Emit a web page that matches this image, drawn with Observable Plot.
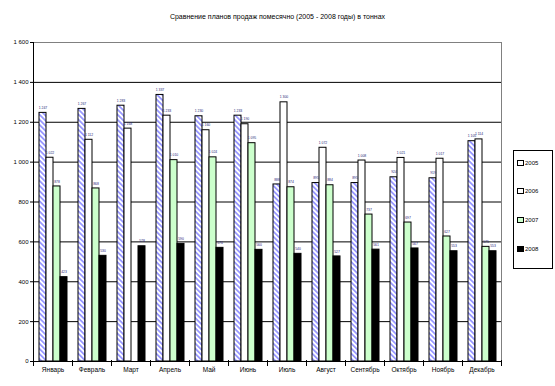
<!DOCTYPE html>
<html>
<head>
<meta charset="utf-8">
<script src="https://cdn.jsdelivr.net/npm/d3@7"></script>
<script src="https://cdn.jsdelivr.net/npm/@observablehq/plot@0.6"></script>
<style>
  body { margin: 0; background: white; font-family: "Liberation Sans", Arial, sans-serif; }
  #wrap { position: relative; width: 555px; height: 386px; overflow: hidden; }
  #title { position: absolute; left: 0; top: 13px; width: 555px; text-align: center; font-size: 7px; color: #000; }
  #chart { position: absolute; left: 0; top: 30px; }
  #legend { position: absolute; left: 513px; top: 150px; width: 38px; height: 117px; border: 1px solid #000; background: white; }
  .item { position: absolute; left: 3px; font-size: 6px; color: #000; line-height: 6px; }
  .sw { display: inline-block; width: 5px; height: 4px; border: 1px solid #000; vertical-align: middle; margin-right: 1px; }
</style>
</head>
<body>
<div id="wrap">
  <div id="title">Сравнение планов продаж помесячно (2005 - 2008 годы) в тоннах</div>
  <div id="chart"></div>
  <div id="legend"></div>
</div>
<script>
const months = ["Январь","Февраль","Март","Апрель","Май","Июнь","Июль","Август","Сентябрь","Октябрь","Ноябрь","Декабрь"];
const seriesNames = ["2005","2006","2007","2008"];
const v2005 = [1247,1267,1283,1337,1230,1233,888,895,895,924,919,1105];
const v2006 = [1022,1112,1168,1233,1160,1190,1300,1072,1008,1021,1017,1114];
const v2007 = [878,868,null,1010,1024,1095,874,884,737,697,627,575];
const v2008 = [423,530,578,590,570,560,540,527,561,567,553,553];
const yTicks = [0,200,400,600,800,1000,1200,1400,1600];
const colors = ["url(#hatch2005)","#ffffff","#ccffcc","#000000"];

const allSeries = [v2005, v2006, v2007, v2008];
const data = months.flatMap((m, i) => seriesNames.map((s, j) => ({month: m, series: s, value: allSeries[j][i]})))
  .filter(d => d.value != null);

const fmt = v => v >= 1000 ? Math.floor(v / 1000) + " " + String(v % 1000).padStart(3, "0") : String(v);

const plot = Plot.plot({
  width: 555,
  height: 356,
  marginTop: 12,
  marginBottom: 25,
  marginLeft: 31,
  marginRight: 52,
  style: {fontFamily: "Liberation Sans, Arial, sans-serif", background: "white"},
  fx: {domain: months, padding: 0, label: null},
  x: {domain: seriesNames, paddingInner: 0, paddingOuter: 0.68, axis: null},
  y: {domain: [0, 1600], label: null},
  color: {domain: seriesNames, range: colors},
  marks: [
    Plot.ruleY(yTicks.filter(t => t < 1600), {stroke: "#000", strokeWidth: 1}),
    Plot.ruleY([1600], {stroke: "#808080", strokeWidth: 1}),
    Plot.frame({anchor: "right", facetAnchor: "right", stroke: "#808080"}),
    Plot.frame({anchor: "left", facetAnchor: "left", stroke: "#000"}),
    Plot.frame({anchor: "left", stroke: "#000", insetTop: 318, insetBottom: -4}),
    Plot.frame({anchor: "right", facetAnchor: "right", stroke: "#000", insetTop: 318, insetBottom: -4}),
    Plot.barY(data, {fx: "month", x: "series", y: "value", fill: "series", stroke: "#000", strokeWidth: 1}),
    Plot.text(data, {fx: "month", x: "series", y: "value", text: d => fmt(d.value), dy: -5, fontSize: 3.4, fill: "#26267a"}),
    Plot.axisY({ticks: yTicks, tickFormat: fmt, tickSize: 3, tickPadding: 2, fontSize: 6, color: "#000", label: null}),
    Plot.axisFx({anchor: "bottom", tickSize: 0, tickPadding: 6, fontSize: 6.5, color: "#000", label: null})
  ]
});

// hatch pattern definition for the 2005 series
const svgNS = "http://www.w3.org/2000/svg";
const defs = document.createElementNS(svgNS, "defs");
defs.innerHTML = `<pattern id="hatch2005" patternUnits="userSpaceOnUse" width="3.6" height="3.6" patternTransform="rotate(45)">
  <rect width="3.6" height="3.6" fill="white"/>
  <rect width="3.6" height="1.8" fill="#9999ff"/>
</pattern>`;
plot.insertBefore(defs, plot.firstChild);
document.getElementById("chart").appendChild(plot);

// legend
const legend = document.getElementById("legend");
const legendFills = ["#ffffff","#ffffff","#ccffcc","#000000"];
const legendTops = [9, 37, 66, 95];
seriesNames.forEach((s, j) => {
  const it = document.createElement("div");
  it.className = "item";
  it.style.top = legendTops[j] + "px";
  it.innerHTML = `<span class="sw" style="background:${legendFills[j]}"></span>${s}`;
  legend.appendChild(it);
});
</script>
</body>
</html>
